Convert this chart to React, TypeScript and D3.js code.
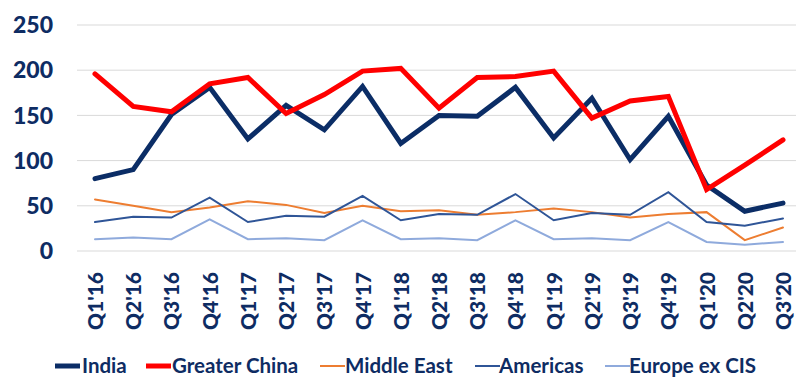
import React from "react";
import * as d3 from "d3";

const categories = ["Q1'16","Q2'16","Q3'16","Q4'16","Q1'17","Q2'17","Q3'17","Q4'17","Q1'18","Q2'18","Q3'18","Q4'18","Q1'19","Q2'19","Q3'19","Q4'19","Q1'20","Q2'20","Q3'20"];
const india = [80, 90, 151, 181, 124, 161, 134, 182, 119, 150, 149, 181, 125, 169, 101, 149, 73, 44, 53];
const greaterChina = [196, 160, 154, 185, 192, 152, 173, 199, 202, 158, 192, 193, 199, 147, 166, 171, 68, 95, 123];
const middleEast = [57, 50, 43, 48, 55, 51, 42, 50, 44, 45, 40, 43, 47, 43, 37, 41, 43, 12, 26];
const americas = [32, 38, 37, 59, 32, 39, 38, 61, 34, 41, 40, 63, 34, 42, 40, 65, 32, 28, 36];
const europe = [13, 15, 13, 35, 13, 14, 12, 34, 13, 14, 12, 34, 13, 14, 12, 32, 10, 7, 10];
const yTicks = [0, 50, 100, 150, 200, 250];

const seriesList = [
  { name: "India", values: india, color: "#0b2d66", width: 5 },
  { name: "Greater China", values: greaterChina, color: "#ff0000", width: 5 },
  { name: "Middle East", values: middleEast, color: "#ed7d31", width: 2 },
  { name: "Americas", values: americas, color: "#2f5597", width: 2 },
  { name: "Europe ex CIS", values: europe, color: "#8faadc", width: 2 },
];

const legendPos = [
  { lx: 55, tx: 82 },
  { lx: 146, tx: 172 },
  { lx: 320, tx: 345 },
  { lx: 475, tx: 499 },
  { lx: 605, tx: 629 },
];

const W = 796, H = 377;
const textColor = "#0e2c63";
const font = "Lato, 'Open Sans', sans-serif";

export default function App() {
  const x = d3.scalePoint<string>().domain(categories).range([95, 783]);
  const y = d3.scaleLinear().domain([0, 250]).range([251, 25]);
  const line = d3.line<number>().x((_, i) => x(categories[i]) as number).y(d => y(d)).curve(d3.curveLinear);

  return (
    <svg width={W} height={H} style={{ position: "absolute", left: 0, top: 0, background: "#fff" }}>
      {yTicks.map(t => (
        <g key={t}>
          <line x1={77} x2={796} y1={y(t)} y2={y(t)} stroke="#d9d9d9" strokeWidth={1} />
          <text x={53} y={y(t)} dy="0.36em" textAnchor="end" fill={textColor} fontFamily={font} fontWeight={900} fontSize={23}>{t}</text>
        </g>
      ))}
      {categories.map(c => (
        <text key={c} transform={`translate(${(x(c) as number) + 8},272) rotate(-90)`} textAnchor="end" fill={textColor} fontFamily={font} fontWeight={900} fontSize={21}>{c}</text>
      ))}
      {seriesList.map(s => (
        <path key={s.name} d={line(s.values) || ""} fill="none" stroke={s.color} strokeWidth={s.width} strokeLinejoin="miter" strokeLinecap="round" />
      ))}
      {seriesList.map((s, i) => (
        <g key={s.name}>
          <line x1={legendPos[i].lx} x2={legendPos[i].lx + 25} y1={366} y2={366} stroke={s.color} strokeWidth={s.width} />
          <text x={legendPos[i].tx} y={366} dy="0.36em" fill={textColor} fontFamily={font} fontWeight={700} fontSize={20.5}>{s.name}</text>
        </g>
      ))}
    </svg>
  );
}
